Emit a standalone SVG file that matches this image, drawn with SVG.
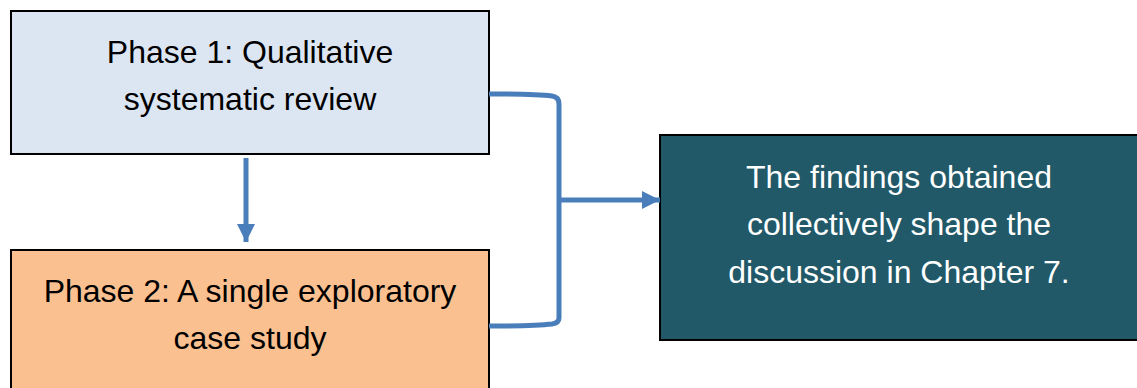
<svg xmlns="http://www.w3.org/2000/svg" width="1137" height="388" viewBox="0 0 1137 388">
  <style>
    .box { stroke: #000; stroke-width: 2; }
    .label { font-family: "Liberation Sans", Arial, sans-serif; font-size: 32px; text-anchor: middle; }
    .dark { fill: #000; }
    .light { fill: #fff; }
    .link { fill: none; stroke: #4a7ebb; stroke-width: 5; }
  </style>
  <defs>
    <marker id="head" viewBox="0 0 10 10" refX="10" refY="5" markerUnits="userSpaceOnUse" markerWidth="18" markerHeight="18" orient="auto">
      <path d="M0,0 L10,5 L0,10 Z" fill="#4a7ebb"/>
    </marker>
  </defs>
  <rect width="1137" height="388" fill="#fff"/>

  <g id="phase1">
    <rect class="box" x="11" y="11" width="478" height="143" fill="#dce6f2"/>
    <text class="label dark" x="250" y="63">Phase 1: Qualitative</text>
    <text class="label dark" x="250" y="110">systematic review</text>
  </g>

  <g id="phase2">
    <rect class="box" x="11" y="250" width="478" height="150" fill="#fac090"/>
    <text class="label dark" x="250" y="302">Phase 2: A single exploratory</text>
    <text class="label dark" x="250" y="349">case study</text>
  </g>

  <g id="findings">
    <rect class="box" x="660" y="135" width="480" height="205" fill="#215968"/>
    <text class="label light" x="899" y="188">The findings obtained</text>
    <text class="label light" x="899" y="235">collectively shape the</text>
    <text class="label light" x="899" y="283">discussion in Chapter 7.</text>
  </g>

  <g id="connectors">
    <line class="link" x1="246" y1="158" x2="246" y2="242" marker-end="url(#head)"/>
    <path class="link" d="M489,94 Q535,94 552,96 Q559,97 559,104 L559,318 Q559,323 552,324 Q535,326 489,326"/>
    <line class="link" x1="559" y1="200" x2="660" y2="200" marker-end="url(#head)"/>
  </g>
</svg>
